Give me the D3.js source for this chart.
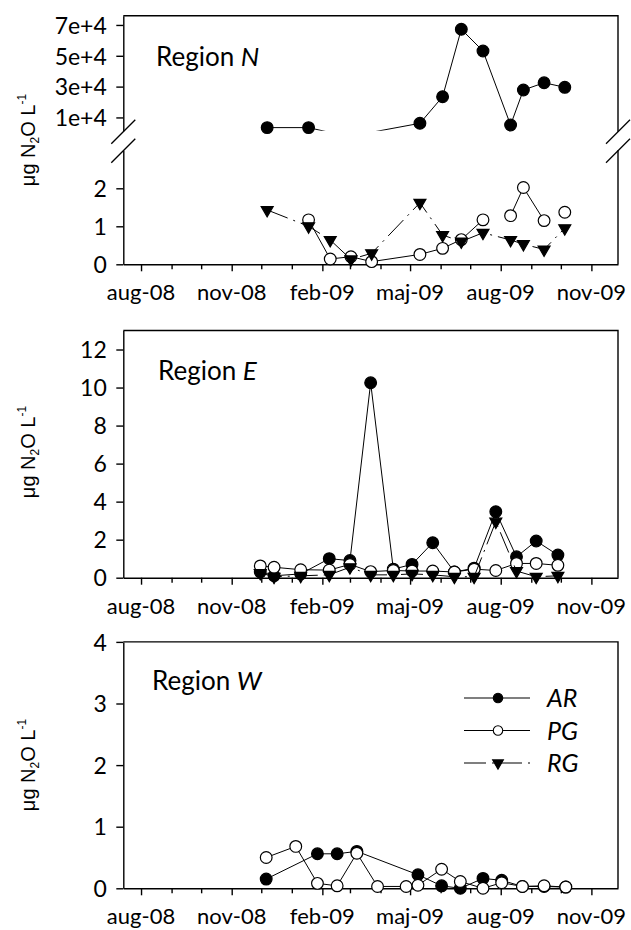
<!DOCTYPE html>
<html>

<head>
    <meta charset="utf-8" />
    <title>N2O regions</title>
    <script src="https://cdn.jsdelivr.net/npm/d3@7"></script>
</head>

<body>
    <style>
        html,
        body {
            margin: 0;
            padding: 0;
            background: #fff;
        }

        svg {
            display: block;
        }

        .axis path,
        .axis line {
            stroke: #000;
            stroke-width: 1.4px;
        }

        .tick-label,
        .region {
            font-family: Lato, "Open Sans", sans-serif;
            fill: #000;
        }

        .ylab {
            font-family: "Liberation Sans", Arial, sans-serif;
            fill: #000;
        }

        .frame {
            fill: none;
            stroke: #000;
            stroke-width: 1.4px;
        }
    </style>
    <div id="container"></div>
    <script>
        // x axis ticks
        const xTickDates = ["2008-08-01", "2008-11-01", "2009-02-01", "2009-05-01", "2009-08-01", "2009-11-01"];
        const xTickLabels = ["aug-08", "nov-08", "feb-09", "maj-09", "aug-09", "nov-09"];

        // Region N (broken y axis)
        const nDatesAR = ["2008-12-07", "2009-01-18", "2009-02-09", "2009-03-02", "2009-03-23", "2009-05-11", "2009-06-03",
            "2009-06-22", "2009-07-14", "2009-08-11", "2009-08-24", "2009-09-14", "2009-10-05"];
        const nAR = [3400, 3400, 1270, 1200, 1290, 6200, 23450, 67200, 53100, 5100, 27800, 32500, 29550];
        const nDatesPG = ["2009-01-18", "2009-02-09", "2009-03-02", "2009-03-23", "2009-05-11", "2009-06-03", "2009-06-22",
            "2009-07-14", "2009-07-28", "2009-08-11", "2009-08-24", "2009-09-14", "2009-09-24", "2009-10-05"];
        const nPG = [1.17, 0.14, 0.2, 0.07, 0.26, 0.42, 0.65, 1.17, null, 1.28, 2.02, 1.15, null, 1.37];
        const nDatesRG = ["2008-12-07", "2009-01-18", "2009-02-09", "2009-03-02", "2009-03-23", "2009-05-11", "2009-06-03",
            "2009-06-22", "2009-07-14", "2009-08-11", "2009-08-24", "2009-09-14", "2009-10-05"];
        const nRG = [1.43, 1.0, 0.64, 0.13, 0.29, 1.62, 0.77, 0.6, 0.83, 0.64, 0.53, 0.39, 0.95];
        const nLowTicks = [0, 1, 2];
        const nHighTicks = [10000, 30000, 50000, 70000];
        const nHighLabels = ["1e+4", "3e+4", "5e+4", "7e+4"];

        // Region E
        const eDates = ["2008-11-30", "2008-12-14", "2009-01-10", "2009-02-08", "2009-03-01", "2009-03-22", "2009-04-14",
            "2009-05-03", "2009-05-24", "2009-06-15", "2009-07-05", "2009-07-27", "2009-08-17", "2009-09-06", "2009-09-28"];
        const eAR = [0.3, 0.1, 0.2, 1.0, 0.9, 10.25, 0.45, 0.7, 1.84, 0.3, 0.5, 3.47, 1.1, 1.93, 1.19];
        const ePG = [0.62, 0.55, 0.42, 0.4, 0.7, 0.32, 0.38, 0.35, 0.35, 0.3, 0.45, 0.38, 0.75, 0.75, 0.65];
        const eRG = [0.25, 0.05, 0.1, 0.15, 0.55, 0.15, 0.15, 0.2, 0.15, 0.05, 0.05, 2.95, 0.35, 0.05, 0.1];
        const eTicks = [0, 2, 4, 6, 8, 10, 12];

        // Region W
        const wDatesAR = ["2008-12-06", "2009-01-27", "2009-02-16", "2009-03-08", "2009-05-09", "2009-06-02", "2009-06-21",
            "2009-07-14", "2009-08-02", "2009-08-23", "2009-09-14", "2009-10-06"];
        const wAR = [0.15, 0.56, 0.56, 0.6, 0.22, 0.04, 0.0, 0.16, 0.13, 0.03, 0.03, 0.02];
        const wDatesPG = ["2008-12-06", "2009-01-05", "2009-01-27", "2009-02-16", "2009-03-08", "2009-03-29", "2009-04-27",
            "2009-05-09", "2009-06-02", "2009-06-21", "2009-07-14", "2009-08-02", "2009-08-23", "2009-09-14", "2009-10-06"];
        const wPG = [0.5, 0.68, 0.08, 0.04, 0.57, 0.03, 0.03, 0.05, 0.31, 0.11, 0.0, 0.09, 0.03, 0.04, 0.02];
        const wTicks = [0, 1, 2, 3, 4];

        const legendKeys = ["AR", "PG", "RG"];

        const parse = d3.timeParse("%Y-%m-%d");
        const svg = d3.select("#container").append("svg")
            .attr("width", 631)
            .attr("height", 930);

        const xLeft = 123.3, xRight = 618;
        const x = d3.scaleTime()
            .domain([new Date(2008, 6, 14), new Date(2009, 10, 28)])
            .range([xLeft, xRight]);

        const rgDash = "22,6,2,6";
        const triangle = d3.symbol().type(d3.symbolTriangle).size(62)();
        const circle = d3.symbol().type(d3.symbolCircle).size(108)();

        function pairs(dates, vals) {
            return dates.map((d, i) => ({ date: parse(d), v: vals[i] }));
        }

        function drawSeries(g, data, key, y, clip, showPoint) {
            const line = d3.line()
                .defined(d => d.v != null)
                .x(d => x(d.date))
                .y(d => y(d.v));
            g.append("path")
                .attr("d", line(data))
                .attr("fill", "none")
                .attr("stroke", "#000")
                .attr("stroke-width", 1)
                .attr("stroke-dasharray", key === "RG" ? rgDash : null)
                .attr("clip-path", clip ? `url(#${clip})` : null);
            const pts = data.filter(d => d.v != null && (!showPoint || showPoint(d.v)));
            g.selectAll(null).data(pts).enter().append("path")
                .attr("d", key === "RG" ? triangle : circle)
                .attr("transform", d => `translate(${x(d.date)},${y(d.v)})` + (key === "RG" ? " rotate(180)" : ""))
                .attr("fill", key === "PG" ? "#fff" : "#000")
                .attr("stroke", "#000")
                .attr("stroke-width", 1.2);
        }

        function drawXAxis(yPos) {
            const g = svg.append("g").attr("class", "axis").attr("transform", `translate(0,${yPos})`);
            g.call(d3.axisBottom(x).ticks(d3.timeMonth.every(1)).tickSize(5).tickSizeOuter(0).tickFormat(""));
            const majors = xTickDates.map(d => +parse(d));
            g.selectAll(".tick line").filter(d => majors.includes(+d)).attr("y2", 7);
            g.selectAll(".xl").data(xTickDates).enter().append("text")
                .attr("class", "tick-label")
                .attr("x", d => x(parse(d)))
                .attr("y", 36)
                .attr("text-anchor", "middle")
                .attr("font-size", 22)
                .text((d, i) => xTickLabels[i]);
        }

        function drawYAxis(scale, ticks, labels) {
            const g = svg.append("g").attr("class", "axis").attr("transform", `translate(${xLeft},0)`);
            g.call(d3.axisLeft(scale).tickValues(ticks).tickSize(7).tickSizeOuter(0)
                .tickFormat((d, i) => labels ? labels[i] : d));
            g.selectAll(".tick text")
                .attr("class", "tick-label")
                .attr("x", -16.5)
                .attr("dy", "0.36em")
                .attr("font-size", 23)
                .attr("font-family", null);
            return g;
        }

        function frame(top, bottom) {
            svg.append("path").attr("class", "frame")
                .attr("d", `M${xLeft},${top}H${xRight}V${bottom}`);
        }

        function region(xPos, yPos, name) {
            const t = svg.append("text").attr("class", "region")
                .attr("x", xPos).attr("y", yPos).attr("font-size", 26);
            t.append("tspan").text("Region ");
            t.append("tspan").attr("font-style", "italic").text(name);
        }

        function yLabel(cy) {
            const t = svg.append("text").attr("class", "ylab")
                .attr("transform", `translate(35,${cy}) rotate(-90)`)
                .attr("text-anchor", "middle")
                .attr("font-size", 20);
            t.append("tspan").text("μg N");
            t.append("tspan").attr("font-size", 12).attr("dy", 4).text("2");
            t.append("tspan").attr("dy", -4).text("O L");
            t.append("tspan").attr("font-size", 12).attr("dy", -9).text("-1");
        }

        // ---------- Region N ----------
        const nTop = 15.7, nBot = 264.3, nLowTop = 150.3, nHighBot = 130.7;
        const yLow = d3.scaleLinear().domain([0, 3]).range([nBot, nLowTop]);
        const yHigh = d3.scaleLinear().domain([1400, 76000]).range([nHighBot, nTop]);
        const yN = d3.scaleLinear().domain([0, 3, 1400, 76000]).range([nBot, nLowTop, nHighBot, nTop]);

        const defs = svg.append("defs");
        const cp = defs.append("clipPath").attr("id", "clipN");
        cp.append("rect").attr("x", xLeft).attr("y", nTop).attr("width", xRight - xLeft).attr("height", nHighBot - nTop);
        cp.append("rect").attr("x", xLeft).attr("y", nLowTop).attr("width", xRight - xLeft).attr("height", nBot - nLowTop + 10);

        svg.append("path").attr("class", "frame").attr("d", `M${xLeft},${nTop}H${xRight}V${nHighBot + 1}`);
        svg.append("path").attr("class", "frame").attr("d", `M${xRight},${nLowTop}V${nBot}`);
        drawYAxis(yHigh, nHighTicks, nHighLabels);
        drawYAxis(yLow, nLowTicks);
        [xLeft, xRight].forEach(ax => {
            [nHighBot + 1, nLowTop + 0.5].forEach(by => {
                svg.append("line")
                    .attr("x1", ax - 12).attr("y1", by + 12)
                    .attr("x2", ax + 12).attr("y2", by - 12)
                    .attr("stroke", "#000").attr("stroke-width", 1.3);
            });
        });
        drawXAxis(nBot);
        const gN = svg.append("g");
        const inSeg = v => v <= 3 || v >= 1400;
        drawSeries(gN, pairs(nDatesAR, nAR), "AR", yN, "clipN", inSeg);
        drawSeries(gN, pairs(nDatesPG, nPG), "PG", yN, "clipN", inSeg);
        drawSeries(gN, pairs(nDatesRG, nRG), "RG", yN, "clipN", inSeg);
        region(156, 66, "N");
        yLabel(140);

        // ---------- Region E ----------
        const eTop = 330.5, eBot = 577.7;
        const yE = d3.scaleLinear().domain([0, 13]).range([eBot, eTop]);
        frame(eTop, eBot);
        drawYAxis(yE, eTicks);
        drawXAxis(eBot);
        const gE = svg.append("g");
        drawSeries(gE, pairs(eDates, eAR), "AR", yE);
        drawSeries(gE, pairs(eDates, ePG), "PG", yE);
        drawSeries(gE, pairs(eDates, eRG), "RG", yE);
        region(158, 380, "E");
        yLabel(452);

        // ---------- Region W ----------
        const wTop = 641.9, wBot = 888.3;
        const yW = d3.scaleLinear().domain([0, 4]).range([wBot, wTop]);
        frame(wTop, wBot);
        drawYAxis(yW, wTicks);
        drawXAxis(wBot);
        const gW = svg.append("g");
        drawSeries(gW, pairs(wDatesAR, wAR), "AR", yW);
        drawSeries(gW, pairs(wDatesPG, wPG), "PG", yW);
        region(152, 690, "W");
        yLabel(765);

        // legend
        const lg = svg.append("g").attr("transform", "translate(464,698)");
        legendKeys.forEach((k, i) => {
            const row = lg.append("g").attr("transform", `translate(0,${i * 32.5})`);
            row.append("line").attr("x1", 0).attr("x2", 66)
                .attr("stroke", "#000").attr("stroke-width", 1.2)
                .attr("stroke-dasharray", k === "RG" ? rgDash : null);
            row.append("path")
                .attr("d", k === "RG" ? d3.symbol().type(d3.symbolTriangle).size(50)() : d3.symbol().type(d3.symbolCircle).size(70)())
                .attr("transform", `translate(34,0)` + (k === "RG" ? " rotate(180)" : ""))
                .attr("fill", k === "PG" ? "#fff" : "#000")
                .attr("stroke", "#000").attr("stroke-width", 1.1);
            row.append("text").attr("class", "region")
                .attr("x", 83).attr("y", 9)
                .attr("font-size", 25).attr("font-style", "italic")
                .text(k);
        });
    </script>
</body>

</html>
